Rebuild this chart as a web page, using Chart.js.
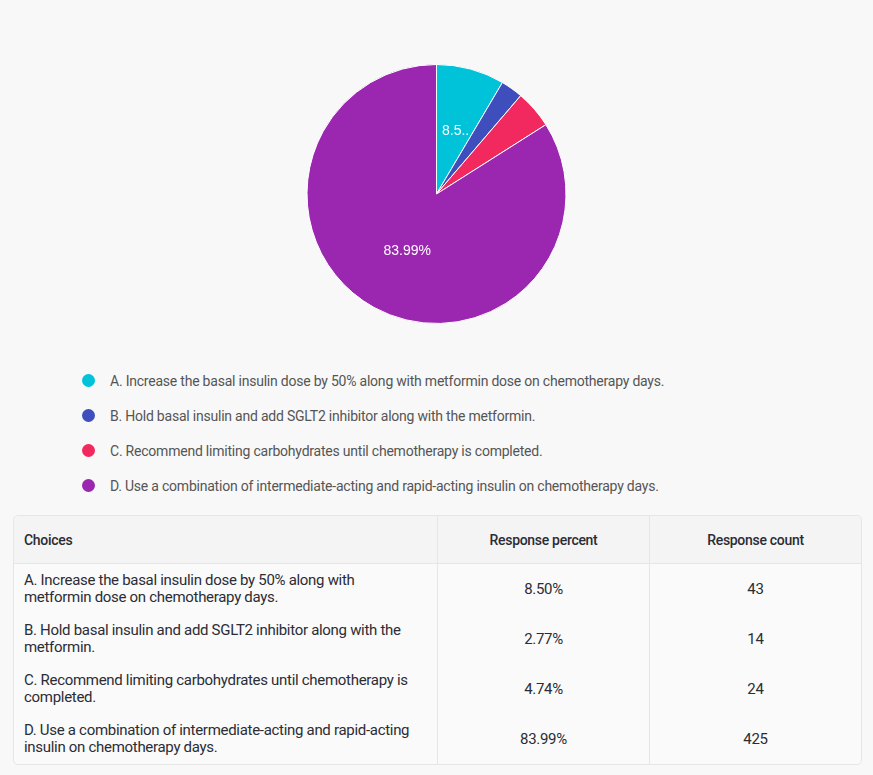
<!DOCTYPE html>
<html>
<head>
<meta charset="utf-8">
<script src="https://cdn.jsdelivr.net/npm/chart.js@4"></script>
<style>
    body { margin: 0; background: #f8f8f8; font-family: Roboto, "Noto Sans", sans-serif; color: #333; }
    .chart_box { position: relative; width: 873px; height: 350px; }
    .legend { margin: 0; padding: 0; list-style: none; position: absolute; left: 82px; top: 370px; }
    .legend li { height: 35px; font-size: 14px; color: #555; letter-spacing: -0.22px; display: flex; align-items: flex-start; line-height: 22px; }
    .legend .dot { width: 13px; height: 13px; border-radius: 50%; margin: 4px 15px 0 0; flex: none; }
    table { position: absolute; left: 13px; top: 515px; width: 848px; table-layout: fixed; border-collapse: separate; border-spacing: 0;
        border: 1px solid #e6e6e6; border-radius: 5px; background: #fafafa; font-size: 15px; color: #2c2c35; letter-spacing: -0.3px; }
    th { background: #f4f4f4; font-weight: 500; height: 47px; border-bottom: 1px solid #e6e6e6; font-size: 14px; }
    td { height: 50px; line-height: 17px; }
    th, td { padding: 0 10px; border-left: 1px solid #e6e6e6; text-align: center; }
    th:first-child, td:first-child { border-left: none; text-align: left; }
    th:first-child { border-top-left-radius: 5px; }
    th:last-child { border-top-right-radius: 5px; }
</style>
</head>
<body>
<div class="chart_box"><canvas id="pie_chart"></canvas></div>
<ul class="legend" id="legend"></ul>
<table id="result_table">
    <colgroup><col style="width:423px"><col style="width:212px"><col style="width:212px"></colgroup>
    <tbody id="result_rows"></tbody>
</table>
<script>
const choices = [
    'A. Increase the basal insulin dose by 50% along with metformin dose on chemotherapy days.',
    'B. Hold basal insulin and add SGLT2 inhibitor along with the metformin.',
    'C. Recommend limiting carbohydrates until chemotherapy is completed.',
    'D. Use a combination of intermediate-acting and rapid-acting insulin on chemotherapy days.'
];
// table wraps choices at these points
const tableChoices = [
    'A. Increase the basal insulin dose by 50% along with<br>metformin dose on chemotherapy days.',
    'B. Hold basal insulin and add SGLT2 inhibitor along with the<br>metformin.',
    'C. Recommend limiting carbohydrates until chemotherapy is<br>completed.',
    'D. Use a combination of intermediate-acting and rapid-acting<br>insulin on chemotherapy days.'
];
const responsePercent = [8.50, 2.77, 4.74, 83.99];
const responseCount = [43, 14, 24, 425];
const sliceColors = ['#00c2d8', '#3e4fbd', '#f2295f', '#9b27b1'];
const tableHeaders = ['Choices', 'Response percent', 'Response count'];

// labels inside slices, cut with ".." when they don't fit
const sliceLabels = {
    id: 'sliceLabels',
    afterDatasetsDraw(chart) {
        const ctx = chart.ctx;
        const meta = chart.getDatasetMeta(0);
        ctx.save();
        ctx.font = '14px Arial, "Liberation Sans", sans-serif';
        ctx.fillStyle = '#fff';
        ctx.textAlign = 'center';
        ctx.textBaseline = 'middle';
        meta.data.forEach((arc, i) => {
            const p = arc.getCenterPoint();
            const room = (arc.endAngle - arc.startAngle) * arc.outerRadius / 2 * 0.95;
            if (room < 22) return;
            let text = responsePercent[i].toFixed(2) + '%';
            if (ctx.measureText(text).width > room) {
                while (text.length > 1 && ctx.measureText(text + '..').width > room) text = text.slice(0, -1);
                text += '..';
            }
            ctx.fillText(text, p.x + 2, p.y);
        });
        ctx.restore();
    }
};

new Chart(document.getElementById('pie_chart'), {
    type: 'pie',
    data: {
        labels: choices,
        datasets: [{
            data: responsePercent,
            backgroundColor: sliceColors,
            borderColor: '#ffffff',
            borderWidth: 1
        }]
    },
    options: {
        responsive: true,
        maintainAspectRatio: false,
        animation: false,
        layout: { padding: { top: 64, bottom: 26 } },
        plugins: { legend: { display: false }, tooltip: { enabled: false } }
    },
    plugins: [sliceLabels]
});

document.getElementById('legend').innerHTML = choices.map((c, i) =>
    `<li><span class="dot" style="background:${sliceColors[i]}"></span>${c}</li>`).join('');

let rows = '<tr>' + tableHeaders.map(h => `<th>${h}</th>`).join('') + '</tr>';
tableChoices.forEach((c, i) => {
    rows += `<tr><td>${c}</td><td>${responsePercent[i].toFixed(2)}%</td><td>${responseCount[i]}</td></tr>`;
});
document.getElementById('result_rows').innerHTML = rows;
</script>
</body>
</html>
